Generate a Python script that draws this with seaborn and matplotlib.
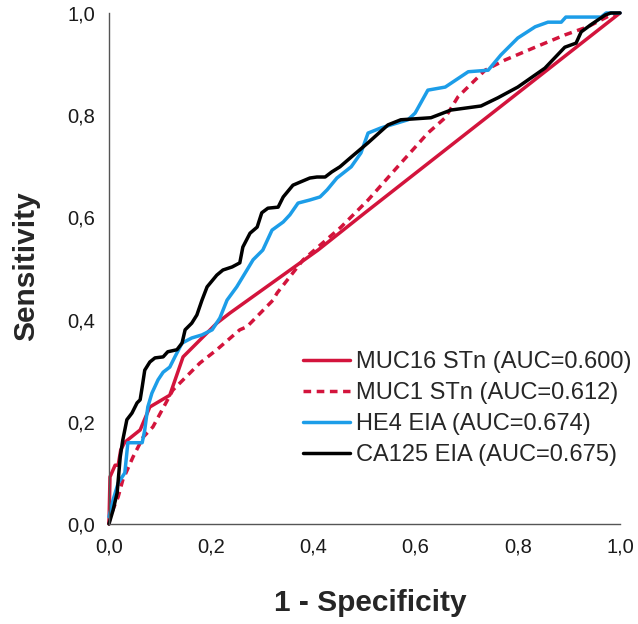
import matplotlib
matplotlib.use('Agg')
import matplotlib.pyplot as plt
import seaborn as sns
import pandas as pd

# ROC points (1 - specificity, sensitivity)
muc16_fpr = [0.0, 0.002, 0.012, 0.018, 0.023, 0.031, 0.061, 0.080, 0.119, 0.145, 0.178, 0.211, 0.237, 0.409, 0.501, 1.0]
muc16_tpr = [0.0, 0.092, 0.115, 0.115, 0.145, 0.160, 0.184, 0.229, 0.252, 0.327, 0.360, 0.393, 0.413, 0.536, 0.609, 1.0]

muc1_fpr = [0.0, 0.002, 0.018, 0.027, 0.047, 0.067, 0.086, 0.125, 0.178, 0.211, 0.256, 0.270, 0.321, 0.329, 0.380,
            0.409, 0.454, 0.507, 0.571, 0.624, 0.658, 0.683, 0.736, 0.775, 0.834, 0.892, 0.937, 0.982, 1.0]
muc1_tpr = [0.0, 0.014, 0.053, 0.086, 0.131, 0.170, 0.190, 0.262, 0.315, 0.341, 0.380, 0.386, 0.438, 0.452, 0.517,
            0.542, 0.581, 0.634, 0.706, 0.765, 0.795, 0.836, 0.888, 0.908, 0.933, 0.957, 0.973, 0.996, 1.0]

he4_fpr = [0.0, 0.008, 0.018, 0.031, 0.037, 0.065, 0.070, 0.076, 0.084, 0.096, 0.106, 0.119, 0.129, 0.143, 0.162,
           0.182, 0.202, 0.217, 0.231, 0.250, 0.270, 0.282, 0.301, 0.319, 0.341, 0.354, 0.370, 0.393, 0.413, 0.427,
           0.446, 0.474, 0.493, 0.507, 0.532, 0.552, 0.585, 0.599, 0.624, 0.658, 0.703, 0.742, 0.767, 0.800, 0.834,
           0.859, 0.885, 0.894, 0.963, 0.973, 1.0]
he4_tpr = [0.014, 0.047, 0.080, 0.100, 0.159, 0.159, 0.184, 0.229, 0.256, 0.282, 0.297, 0.307, 0.327, 0.354, 0.364,
           0.370, 0.380, 0.403, 0.438, 0.464, 0.497, 0.517, 0.536, 0.575, 0.591, 0.605, 0.628, 0.634, 0.640, 0.654,
           0.677, 0.699, 0.726, 0.765, 0.775, 0.781, 0.791, 0.804, 0.849, 0.855, 0.885, 0.888, 0.918, 0.951, 0.973,
           0.982, 0.982, 0.992, 0.992, 1.0, 1.0]

ca125_fpr = [0.0, 0.008, 0.016, 0.022, 0.027, 0.035, 0.045, 0.055, 0.061, 0.065, 0.070, 0.080, 0.090, 0.106, 0.115,
             0.133, 0.143, 0.149, 0.162, 0.172, 0.182, 0.192, 0.211, 0.223, 0.241, 0.256, 0.262, 0.276, 0.290, 0.299,
             0.311, 0.331, 0.341, 0.360, 0.374, 0.393, 0.407, 0.423, 0.436, 0.452, 0.474, 0.507, 0.546, 0.571, 0.630,
             0.669, 0.728, 0.761, 0.800, 0.853, 0.892, 0.914, 0.924, 0.943, 0.971, 0.982, 1.0]
ca125_tpr = [0.0, 0.027, 0.061, 0.131, 0.164, 0.204, 0.217, 0.237, 0.243, 0.268, 0.301, 0.317, 0.325, 0.327, 0.337,
             0.341, 0.354, 0.380, 0.393, 0.409, 0.438, 0.464, 0.487, 0.497, 0.503, 0.511, 0.542, 0.569, 0.581, 0.609,
             0.618, 0.620, 0.640, 0.663, 0.669, 0.677, 0.679, 0.679, 0.689, 0.699, 0.718, 0.746, 0.781, 0.791, 0.795,
             0.810, 0.818, 0.834, 0.855, 0.892, 0.933, 0.941, 0.963, 0.977, 0.996, 1.0, 1.0]

labels = ['MUC16 STn (AUC=0.600)', 'MUC1 STn (AUC=0.612)', 'HE4 EIA (AUC=0.674)', 'CA125 EIA (AUC=0.675)']
tick_labels = ['0,0', '0,2', '0,4', '0,6', '0,8', '1,0']

sns.set_style('white')
plt.rcParams['font.family'] = ['Liberation Sans', 'DejaVu Sans']

fig = plt.figure(figsize=(6.38, 6.24), dpi=100)
ax = fig.add_axes([0.1708, 0.1603, 0.801, 0.8189])

red = '#d3143c'
blue = '#1c9de8'
series = [
    (muc16_fpr, muc16_tpr, red, '-'),
    (muc1_fpr, muc1_tpr, red, (0, (2.2, 1.6))),
    (he4_fpr, he4_tpr, blue, '-'),
    (ca125_fpr, ca125_tpr, 'black', '-'),
]
for (fx, ty, col, ls), lab in zip(series, labels):
    df = pd.DataFrame({'fpr': fx, 'tpr': ty})
    sns.lineplot(data=df, x='fpr', y='tpr', ax=ax, color=col, linestyle=ls, linewidth=2.5,
                 estimator=None, sort=False, label=lab, clip_on=False)

ax.set_xlim(0, 1)
ax.set_ylim(0, 1)
ticks = [0, 0.2, 0.4, 0.6, 0.8, 1.0]
ax.set_xticks(ticks)
ax.set_yticks(ticks)
ax.set_xticklabels(tick_labels)
ax.set_yticklabels(tick_labels)
ax.tick_params(axis='both', length=0, labelsize=14.5, colors='#1a1a1a')
ax.tick_params(axis='x', pad=10)
ax.tick_params(axis='y', pad=10)

for side in ['top', 'right']:
    ax.spines[side].set_visible(False)
for side in ['left', 'bottom']:
    ax.spines[side].set_color('#555555')
    ax.spines[side].set_linewidth(1.0)

ax.set_xlabel('')
ax.set_ylabel('')
fig.text(370 / 638, 1 - 603 / 624, '1 - Specificity', fontsize=21.5, fontweight='bold',
         ha='center', va='center')
fig.text(26 / 638, 1 - 266 / 624, 'Sensitivity', fontsize=21.5, fontweight='bold',
         ha='center', va='center', rotation=90)

leg = ax.legend(loc='upper left', bbox_to_anchor=(303 / 638, 1 - 351 / 624), bbox_transform=fig.transFigure,
                frameon=False, fontsize=17, handlelength=2.0, handletextpad=0.25,
                labelspacing=0.38, borderpad=0, borderaxespad=0)

fig.savefig('out.png', dpi=100)
